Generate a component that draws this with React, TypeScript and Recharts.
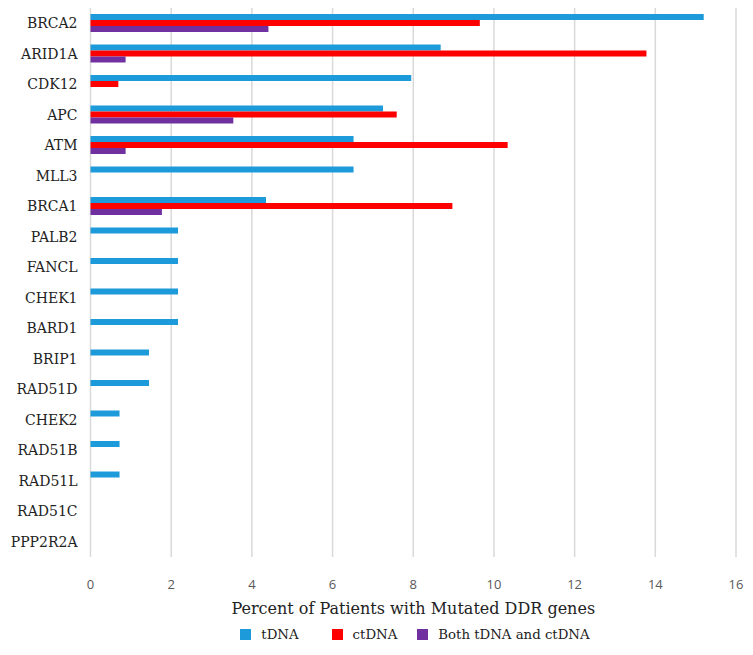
import React from "react";
import { BarChart, Bar, XAxis, YAxis, CartesianGrid, Legend } from "recharts";

const genes = ["BRCA2","ARID1A","CDK12","APC","ATM","MLL3","BRCA1","PALB2","FANCL","CHEK1","BARD1","BRIP1","RAD51D","CHEK2","RAD51B","RAD51L","RAD51C","PPP2R2A"];
const tDNA = [15.2, 8.68, 7.95, 7.25, 6.52, 6.52, 4.35, 2.17, 2.17, 2.17, 2.17, 1.45, 1.45, 0.72, 0.72, 0.72, 0, 0];
const ctDNA = [9.65, 13.78, 0.69, 7.59, 10.34, 0, 8.97, 0, 0, 0, 0, 0, 0, 0, 0, 0, 0, 0];
const both = [4.41, 0.87, 0, 3.54, 0.87, 0, 1.77, 0, 0, 0, 0, 0, 0, 0, 0, 0, 0, 0];
const xTicks = [0, 2, 4, 6, 8, 10, 12, 14, 16];
const seriesNames = ["tDNA", "ctDNA", "Both tDNA and ctDNA"];
const colors = ["#1c9ad9", "#ff0000", "#7030a0"];

const data = genes.map((g, i) => ({ gene: g, tDNA: tDNA[i], ctDNA: ctDNA[i], both: both[i] }));

const serif = "'DejaVu Serif', 'Liberation Serif', serif";

const LegendContent = () => (
  <div style={{ display: "flex", justifyContent: "center", alignItems: "center", fontFamily: serif, fontSize: 13.3, color: "#222", paddingLeft: 4 }}>
    {seriesNames.map((n, i) => (
      <div key={n} style={{ display: "flex", alignItems: "center", marginRight: i === 0 ? 33 : i === 1 ? 20 : 0 }}>
        <span style={{ display: "inline-block", width: 11, height: 11, background: colors[i], marginRight: 10 }} />
        <span>{n}</span>
      </div>
    ))}
  </div>
);

export default function App() {
  return (
    <BarChart
      width={745}
      height={647}
      data={data}
      layout="vertical"
      margin={{ top: 0, right: 17, left: 0, bottom: 27 }}
      barGap={0}
      barCategoryGap="20%"
    >
      <CartesianGrid horizontal={false} stroke="#d9d9d9" strokeWidth={1.5} />
      <XAxis
        type="number"
        domain={[0, 16]}
        ticks={xTicks}
        axisLine={false}
        tickLine={false}
        tickSize={0}
        tickMargin={23}
        height={56}
        tick={{ fill: "#595959", fontSize: 13, fontFamily: "'Open Sans', sans-serif" }}
        label={{ value: "Percent of Patients with Mutated DDR genes", position: "insideBottom", offset: -1, style: { fill: "#222", fontSize: 16, fontFamily: serif } }}
      />
      <YAxis
        type="category"
        dataKey="gene"
        width={82.5}
        axisLine={false}
        tickLine={false}
        tickSize={0}
        tickMargin={13}
        interval={0}
        tick={{ fill: "#222", fontSize: 14, fontFamily: serif }}
      />
      <Legend verticalAlign="bottom" content={<LegendContent />} wrapperStyle={{ bottom: 13, left: 82.5, width: 645 }} />
      <Bar dataKey="tDNA" name="tDNA" fill={colors[0]} barSize={6} isAnimationActive={false} />
      <Bar dataKey="ctDNA" name="ctDNA" fill={colors[1]} barSize={6} isAnimationActive={false} />
      <Bar dataKey="both" name="Both tDNA and ctDNA" fill={colors[2]} barSize={6} isAnimationActive={false} />
    </BarChart>
  );
}
